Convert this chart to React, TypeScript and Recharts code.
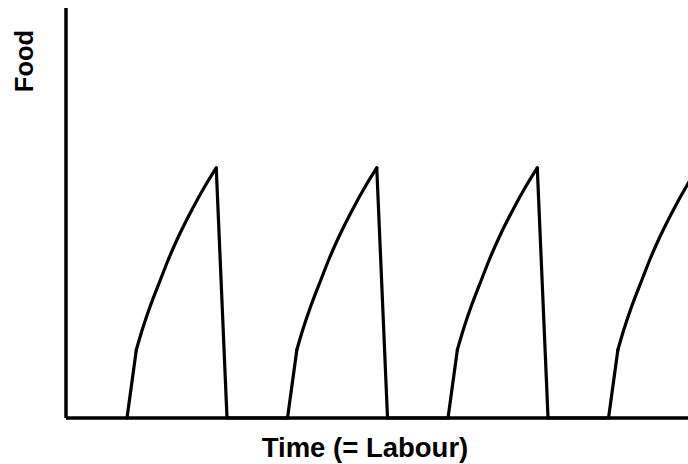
import { LineChart, Line, XAxis, YAxis } from 'recharts';

// one "saw tooth": time offsets from the start of a cycle and the food level there
const CYCLE_STARTS = [3.8, 13.8, 23.8, 33.8];
const KINK_OFFSET = 0.58;
const KINK_FOOD = 16.6;
const CURVE_OFFSETS = [0.95, 1.45, 2.07, 2.57, 3.2, 4.07, 4.88];
const CURVE_FOOD = [21.5, 27.3, 33.6, 38.6, 44.2, 51.0, 56.7];
const PEAK_OFFSET = 5.56;
const PEAK_FOOD = 61.0;
const DROP_OFFSET = 6.23;

const X_MAX = 38.75;
const Y_MAX = 100;

const FONT = '"Liberation Sans", Arial, sans-serif';

// straight pieces (steep start + drop) and the bent growth part are two series
const buildData = () => {
  const rows: { t: number; straight: number | null; curve: number | null }[] = [];
  CYCLE_STARTS.forEach((s) => {
    rows.push({ t: s, straight: 0, curve: null });
    rows.push({ t: s + KINK_OFFSET, straight: KINK_FOOD, curve: KINK_FOOD });
    CURVE_OFFSETS.forEach((o, i) => {
      rows.push({ t: s + o, straight: null, curve: CURVE_FOOD[i] });
    });
    rows.push({ t: s + PEAK_OFFSET, straight: PEAK_FOOD, curve: PEAK_FOOD });
    rows.push({ t: s + DROP_OFFSET, straight: 0, curve: null });
  });
  return rows;
};

const data = buildData();

export default function App() {
  return (
    <div style={{ position: 'absolute', left: 0, top: 0, width: 688, height: 464, background: '#fff' }}>
      <LineChart width={688} height={464} data={data} margin={{ top: 8, right: 0, left: 0, bottom: 0 }}>
        <XAxis
          type="number"
          dataKey="t"
          domain={[0, X_MAX]}
          allowDataOverflow
          tick={false}
          tickLine={false}
          height={46}
          axisLine={{ stroke: '#000', strokeWidth: 3.5 }}
          label={({ viewBox }: any) => (
            <text
              x={viewBox.x + viewBox.width / 2 - 12}
              y={viewBox.y + 39}
              textAnchor="middle"
              fontFamily={FONT}
              fontWeight="bold"
              fontSize={27.5}
              fill="#000"
            >
              Time (= Labour)
            </text>
          )}
        />
        <YAxis
          type="number"
          domain={[0, Y_MAX]}
          tick={false}
          tickLine={false}
          width={66}
          axisLine={{ stroke: '#000', strokeWidth: 3.5 }}
          label={({ viewBox }: any) => (
            <text
              x={24}
              y={viewBox.y + 53}
              transform={`rotate(-90, 24, ${viewBox.y + 53})`}
              textAnchor="middle"
              dy="0.35em"
              fontFamily={FONT}
              fontWeight="bold"
              fontSize={25.5}
              fill="#000"
            >
              Food
            </text>
          )}
        />
        <Line
          type="linear"
          dataKey="straight"
          stroke="#000"
          strokeWidth={3.2}
          strokeLinecap="round"
          dot={false}
          isAnimationActive={false}
        />
        <Line
          type="monotone"
          dataKey="curve"
          stroke="#000"
          strokeWidth={3.2}
          strokeLinecap="round"
          dot={false}
          isAnimationActive={false}
        />
      </LineChart>
    </div>
  );
}
